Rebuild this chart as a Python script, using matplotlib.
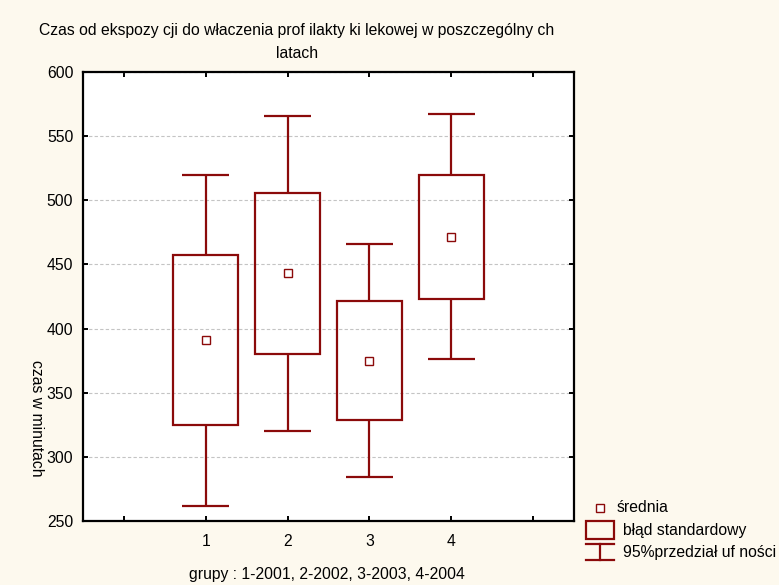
import matplotlib
matplotlib.use("Agg")
import matplotlib.pyplot as plt
from matplotlib.lines import Line2D
from matplotlib.patches import Rectangle

plt.rcParams['font.family'] = ['Liberation Sans', 'DejaVu Sans']

# Group means, standard errors and 95% CI half-widths (minutes)
groups = [1, 2, 3, 4]
means = [391.0, 443.0, 375.0, 471.5]
std_err = [66.0, 63.0, 46.5, 48.5]
ci_half = [129.0, 123.0, 91.0, 95.5]

xtick_pos = [0, 1, 2, 3, 4, 5]
xtick_labels = ['', '1', '2', '3', '4', '']
ytick_vals = [250, 300, 350, 400, 450, 500, 550, 600]

title = ("Czas od ekspozy cji do właczenia prof ilakty ki lekowej w poszczególny ch\n"
         "latach")
xlabel = "grupy : 1-2001, 2-2002, 3-2003, 4-2004"
ylabel = "czas w minutach"
legend_labels = ["średnia", "błąd standardowy", "95%przedział uf ności"]

RED = '#8b0a0a'
BG = '#fdf9ee'
W, H = 779, 585
FS = 11.3

fig = plt.figure(figsize=(W / 100, H / 100), dpi=100, facecolor=BG)
ax = fig.add_axes([83 / W, 1 - 521 / H, (574 - 83) / W, (521 - 72) / H])
ax.set_facecolor('white')

box_w = 0.8
cap_w = 0.58
for g, m, s, c in zip(groups, means, std_err, ci_half):
    ax.bar(g, 2 * s, bottom=m - s, width=box_w, fill=False,
           edgecolor=RED, linewidth=1.6, zorder=3)
    ax.vlines(g, m + s, m + c, color=RED, linewidth=1.6, zorder=3)
    ax.vlines(g, m - c, m - s, color=RED, linewidth=1.6, zorder=3)
    ax.hlines([m + c, m - c], g - cap_w / 2, g + cap_w / 2,
              color=RED, linewidth=1.6, zorder=3)
ax.plot(groups, means, linestyle='none', marker='s', markersize=5.5,
        markerfacecolor='white', markeredgecolor=RED, markeredgewidth=1.0,
        zorder=4)

ax.set_xlim(-0.5, 5.5)
ax.set_ylim(250, 600)
ax.set_xticks(xtick_pos)
ax.set_xticklabels(xtick_labels)
ax.set_yticks(ytick_vals)
ax.tick_params(axis='both', direction='in', length=3.5, width=1.4,
               top=True, right=True, labelsize=FS, colors='black')
ax.tick_params(axis='y', pad=7)
ax.tick_params(axis='x', pad=9)
for sp in ax.spines.values():
    sp.set_linewidth(1.6)
    sp.set_color('black')

ax.yaxis.grid(True, color='#c4c4c4', linestyle=(0, (3, 2)), linewidth=0.8)
ax.set_axisbelow(True)

fig.text(297 / W, 1 - 42 / H, title, ha='center', va='center',
         fontsize=FS, linespacing=1.75)
fig.text(327 / W, 1 - 575 / H, xlabel, ha='center', va='center', fontsize=FS)
fig.text(36 / W, 1 - 418 / H, ylabel, ha='center', va='center',
         rotation=270, fontsize=FS)

# Legend glyphs drawn in pixel coordinates of the figure
def px(x, y):
    return x / W, 1 - y / H

fig.add_artist(Line2D(*zip(px(600, 508)), marker='s', markersize=5.5,
                      markerfacecolor='white', markeredgecolor=RED,
                      markeredgewidth=1.0, linestyle='none'))
x0, y0 = px(586, 539)
fig.add_artist(Rectangle((x0, y0), 28 / W, 18 / H, transform=fig.transFigure,
                         fill=False, edgecolor=RED, linewidth=1.6))
for yy in (544, 560):
    a, b = px(586, yy), px(614, yy)
    fig.add_artist(Line2D([a[0], b[0]], [a[1], b[1]], color=RED, linewidth=1.6))
a, b = px(600, 544), px(600, 560)
fig.add_artist(Line2D([a[0], b[0]], [a[1], b[1]], color=RED, linewidth=1.6))

fig.text(617 / W, 1 - 508 / H, legend_labels[0], ha='left', va='center', fontsize=FS)
fig.text(623 / W, 1 - 530 / H, legend_labels[1], ha='left', va='center', fontsize=FS)
fig.text(623 / W, 1 - 552 / H, legend_labels[2], ha='left', va='center', fontsize=FS)

fig.savefig('out.png', dpi=100, facecolor=BG)
